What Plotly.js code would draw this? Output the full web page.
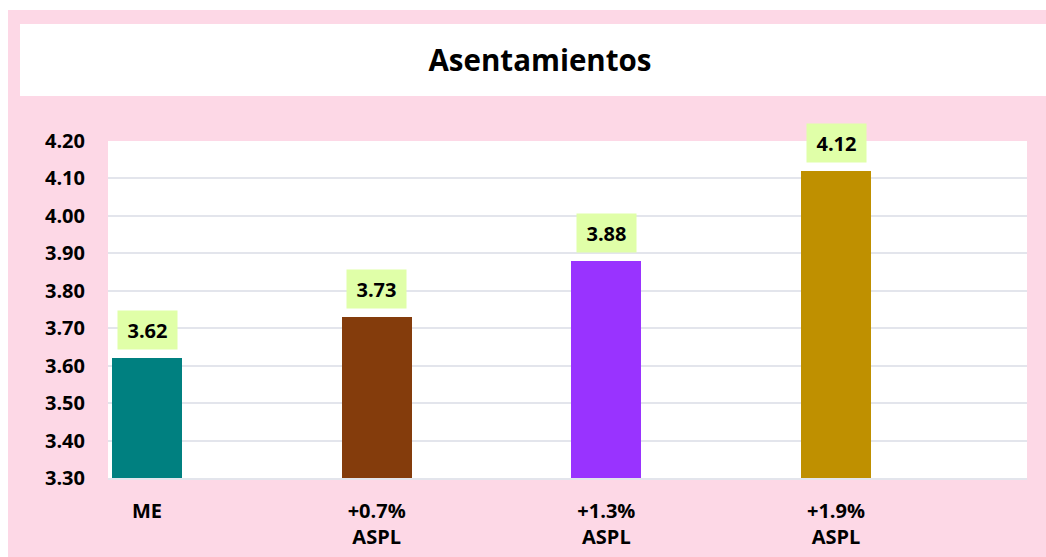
<!DOCTYPE html>
<html>
<head>
<meta charset="utf-8">
<script src="https://cdn.plot.ly/plotly-3.0.1.min.js"></script>
<style>html,body{margin:0;padding:0;background:#fff;}#chart{width:1046px;height:557px;}</style>
</head>
<body>
<div id="chart"></div>
<script>
var categories = ["ME", "+0.7%<br>ASPL", "+1.3%<br>ASPL", "+1.9%<br>ASPL"];
var positions = [0, 1, 2, 3];
var values = [3.62, 3.73, 3.88, 4.12];
var valueLabels = ["3.62", "3.73", "3.88", "4.12"];
var barColors = ["#008080", "#843c0c", "#9933ff", "#bf9000"];
var yTicks = [3.30, 3.40, 3.50, 3.60, 3.70, 3.80, 3.90, 4.00, 4.10, 4.20];

var W = 1046, H = 557;
var FONT = "'Open Sans', sans-serif";
var ML = 108, MR = 19, MT = 141, MB = 79;

var trace = {
  type: "bar",
  x: positions,
  y: values,
  width: 0.305,
  marker: {color: barColors, line: {width: 0}},
  hoverinfo: "none"
};

var annotations = positions.map(function(p, i){
  return {
    x: p, y: values[i], xref: "x", yref: "y",
    text: "<b>" + valueLabels[i] + "</b>",
    showarrow: false,
    yanchor: "bottom", xanchor: "center",
    yshift: 8,
    bgcolor: "#e0ffa8",
    width: 55, height: 34, borderpad: 2,
    font: {family: FONT, size: 20, color: "#000"}
  };
});

var plotW = W - ML - MR, plotH = H - MT - MB;
function px(x){ return (x - ML) / plotW; }
function py(y){ return (H - MB - y) / plotH; }

var layout = {
  width: W, height: H,
  paper_bgcolor: "#ffffff",
  plot_bgcolor: "rgba(0,0,0,0)",
  margin: {l: ML, r: MR, t: MT, b: MB, pad: 0},
  showlegend: false,
  title: {
    text: "<b>Asentamientos</b>",
    font: {family: FONT, size: 29.5, color: "#000"},
    xref: "container", x: 540 / W, xanchor: "center",
    yref: "container", y: 1 - 61 / H, yanchor: "middle"
  },
  xaxis: {
    type: "linear",
    range: [-0.1698, 3.8316],
    tickvals: positions,
    ticktext: categories.map(function(c){ return "<b>" + c + "</b>"; }),
    tickfont: {family: FONT, size: 20, color: "#000"},
    showgrid: false, zeroline: false,
    showline: true, linecolor: "#e3e5ec", linewidth: 2,
    ticks: "", ticklabelstandoff: 14,
    fixedrange: true
  },
  yaxis: {
    range: [3.30, 4.20],
    tickvals: yTicks,
    ticktext: yTicks.map(function(v){ return "<b>" + v.toFixed(2) + "</b>"; }),
    tickfont: {family: FONT, size: 20, color: "#000"},
    showgrid: true, gridcolor: "#e3e5ec", gridwidth: 2,
    zeroline: false, showline: false,
    ticks: "", ticklabelstandoff: 22,
    fixedrange: true
  },
  bargap: 0,
  annotations: annotations,
  shapes: [
    {type: "rect", xref: "paper", yref: "paper", layer: "below",
     x0: px(8), x1: px(1046), y0: py(557), y1: py(10),
     fillcolor: "#fdd8e6", line: {width: 0}},
    {type: "rect", xref: "paper", yref: "paper", layer: "below",
     x0: px(20), x1: px(1046), y0: py(96), y1: py(24),
     fillcolor: "#ffffff", line: {width: 0}},
    {type: "rect", xref: "paper", yref: "paper", layer: "below",
     x0: 0, x1: 1, y0: 0, y1: 1,
     fillcolor: "#ffffff", line: {width: 0}}
  ]
};

Plotly.newPlot("chart", [trace], layout, {displayModeBar: false, staticPlot: true});
</script>
</body>
</html>
